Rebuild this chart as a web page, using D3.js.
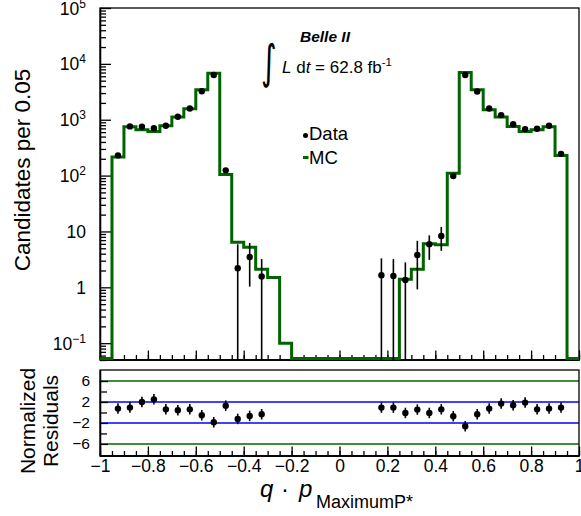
<!DOCTYPE html>
<html><head><meta charset="utf-8">
<script src="https://cdn.jsdelivr.net/npm/d3@7"></script>
<style>
body{margin:0;background:#fff}
svg{display:block;font-family:"Liberation Sans",Arial,Helvetica,sans-serif}
</style>
</head><body><svg id="c" width="581" height="516"></svg>
<script>
// ---------- data ----------
const binLow = [-1,-0.95,-0.9,-0.85,-0.8,-0.75,-0.7,-0.65,-0.6,-0.55,-0.5,-0.45,-0.4,-0.35,-0.3,-0.25,-0.2,-0.15,-0.1,-0.05,
                0,0.05,0.1,0.15,0.2,0.25,0.3,0.35,0.4,0.45,0.5,0.55,0.6,0.65,0.7,0.75,0.8,0.85,0.9,0.95];
const binWidth = 0.05;
const mcValues = [0,215,750,660,615,780,1120,1580,3450,6800,105,6.4,5.2,2.1,1.5,0.1,0,0,0,0,
                  0,0,0,0,0,1.39,2.1,6.0,5.8,110,7000,3450,1510,1120,760,615,660,750,230,0];
const dataX = [-0.925,-0.875,-0.825,-0.775,-0.725,-0.675,-0.625,-0.575,-0.525,-0.475,-0.425,-0.375,-0.325,
               0.175,0.225,0.275,0.325,0.375,0.425,0.475,0.525,0.575,0.625,0.675,0.725,0.775,0.825,0.875,0.925];
const dataY = [230,760,750,705,780,1130,1590,3240,6300,124,2.2,3.5,1.57,
               1.64,1.59,1.35,3.8,5.9,8.3,98,6300,3200,1590,1210,830,680,690,780,245];
const dataLo = [215,732,723,678,752,1096,1550,3183,6221,113,0,1.03,0,
                0,0,0,0.92,3.1,4.5,88,6221,3143,1550,1175,801,654,664,752,229];
const dataHi = [245,788,777,732,808,1164,1630,3297,6379,135,5.9,6.2,3.2,
                3.3,3.2,2.8,6.8,8.5,12,108,6379,3257,1630,1245,859,706,716,808,261];
const residY = [0.74,0.93,2.0,2.5,0.6,0.42,0.6,-0.53,-1.87,1.3,-1.23,-0.66,-0.34,
                0.93,0.93,-0.09,0.55,-0.09,0.6,-0.72,-2.63,-0.34,0.74,1.69,1.37,1.88,0.6,0.74,0.93];
const residErr = [1,1,1,1,1,1,1,1,1,1,1,1,1,1,1,1,1,1,1,1,1,1,1,1,1,1,1,1,1];
const yMajorTicks = [0.1,1,10,100,1000,10000,100000];
const yTickBase = ["10","1","10","10","10","10","10"];
const yTickExp  = ["−1","","","2","3","4","5"];
const xMajorTicks = [-1,-0.8,-0.6,-0.4,-0.2,0,0.2,0.4,0.6,0.8,1];
const xTickLabels = ["−1","−0.8","−0.6","−0.4","−0.2","0","0.2","0.4","0.6","0.8","1"];
const residTicks = [6,2,-2,-6];
const residTickLabels = ["6","2","−2","−6"];
const residMinorTicks = [4,0,-4];
const greenLines = [6,-6];
const blueLines = [2,-2];

// ---------- layout ----------
const GREEN = "#006400";
const svg = d3.select("#c");
const X0 = 100, X1 = 579;
const TOP = 8, BOT = 360;
const RTOP = 370, RBOT = 456;

const x = d3.scaleLinear().domain([-1,1]).range([X0,X1]);
const y = d3.scaleLog().domain([0.05,1e5]).range([BOT,TOP]);
const yr = d3.scaleLinear().domain([-8.3,8.1]).range([RBOT,RTOP]);

// minor ticks for log axis
const yMinor = [];
[0.01,0.1,1,10,100,1000,10000].forEach(d=>{for(let k=2;k<=9;k++){const v=d*k; if(v>=0.05&&v<=1e5) yMinor.push(v);}});
const xMinor = d3.range(-1,1.0001,0.05).map(v=>+v.toFixed(2));

// ---------- top panel ----------
svg.append("rect").attr("x",X0).attr("y",TOP).attr("width",X1-X0).attr("height",BOT-TOP)
  .attr("fill","none").attr("stroke","#000").attr("stroke-width",1.3);

const gy = svg.append("g").attr("transform",`translate(${X0},0)`);
gy.call(d3.axisLeft(y).tickValues(yMinor).tickSize(-6).tickSizeOuter(0).tickFormat(""));
const gy2 = svg.append("g").attr("transform",`translate(${X0},0)`);
gy2.call(d3.axisLeft(y).tickValues(yMajorTicks).tickSize(-11).tickSizeOuter(0).tickPadding(14).tickFormat(""));
gy2.selectAll(".tick text").each(function(d){
  const t = d3.select(this).attr("font-size",17.5).attr("font-family","Liberation Sans, Arial").attr("dy","0.35em");
  const idx = yMajorTicks.indexOf(d);
  t.append("tspan").text(yTickBase[idx]);
  if(yTickExp[idx]) t.append("tspan").attr("font-size",12).attr("dy",-7).text(yTickExp[idx]);
});
const gx = svg.append("g").attr("transform",`translate(0,${BOT-0.5})`);
gx.call(d3.axisBottom(x).tickValues(xMinor).tickSize(-4.5).tickSizeOuter(0).tickFormat(""));
const gx2 = svg.append("g").attr("transform",`translate(0,${BOT-0.5})`);
gx2.call(d3.axisBottom(x).tickValues(xMajorTicks).tickSize(-9).tickSizeOuter(0).tickFormat(""));
svg.selectAll(".domain,.tick line").attr("stroke-width",1.3);

// MC histogram
const clampY = v => v>0 ? y(Math.max(v,0.05)) : BOT-1.5;
let p = d3.path();
p.moveTo(x(binLow[0]), clampY(mcValues[0]));
binLow.forEach((lo,i)=>{
  const yy = clampY(mcValues[i]);
  p.lineTo(x(lo), yy);
  p.lineTo(x(lo+binWidth), yy);
});
svg.append("path").attr("d",p.toString()).attr("fill","none").attr("stroke",GREEN).attr("stroke-width",3);

// data points
const gd = svg.append("g");
dataX.forEach((xv,i)=>{
  const ylo = dataLo[i]>0 ? y(dataLo[i]) : BOT;
  gd.append("line").attr("x1",x(xv)).attr("x2",x(xv)).attr("y1",ylo).attr("y2",y(dataHi[i]))
    .attr("stroke","#000").attr("stroke-width",1.6);
  gd.append("circle").attr("cx",x(xv)).attr("cy",y(dataY[i])).attr("r",3.2).attr("fill","#000");
});

// texts
svg.append("text").attr("x",300).attr("y",41.7).attr("font-size",15.5).attr("font-weight","bold")
  .attr("font-style","italic").text("Belle II");
svg.append("text").attr("x",261).attr("y",76).attr("font-size",30).attr("font-family","DejaVu Sans")
  .attr("transform","translate(0,-40) scale(1,1.55)").attr("transform-origin","0 0").text("∫");
const lt = svg.append("text").attr("x",282).attr("y",72.7).attr("font-size",17);
lt.append("tspan").attr("font-style","italic").text("L");
lt.append("tspan").text(" d");
lt.append("tspan").attr("font-style","italic").text("t");
lt.append("tspan").text(" = 62.8 fb");
lt.append("tspan").attr("font-size",11.5).attr("dy",-7).text("-1");

// legend
svg.append("circle").attr("cx",305.5).attr("cy",135.5).attr("r",2.5).attr("fill","#000");
svg.append("text").attr("x",309).attr("y",140).attr("font-size",18.5).text("Data");
svg.append("line").attr("x1",303).attr("x2",308.5).attr("y1",157.5).attr("y2",157.5).attr("stroke",GREEN).attr("stroke-width",3);
svg.append("text").attr("x",309).attr("y",164).attr("font-size",18.5).text("MC");

// y title
svg.append("text").attr("transform","translate(30,170) rotate(-90)").attr("text-anchor","middle")
  .attr("font-size",22.5).text("Candidates per 0.05");

// ---------- residual panel ----------
greenLines.forEach(v=>svg.append("line").attr("x1",X0).attr("x2",X1).attr("y1",yr(v)).attr("y2",yr(v))
  .attr("stroke",GREEN).attr("stroke-width",1.5));
blueLines.forEach(v=>svg.append("line").attr("x1",X0).attr("x2",X1).attr("y1",yr(v)).attr("y2",yr(v))
  .attr("stroke","#0000ff").attr("stroke-width",1.5));

svg.append("rect").attr("x",X0).attr("y",RTOP).attr("width",X1-X0).attr("height",RBOT-RTOP)
  .attr("fill","none").attr("stroke","#000").attr("stroke-width",1.3);

const gry = svg.append("g").attr("transform",`translate(${X0},0)`);
gry.call(d3.axisLeft(yr).tickValues(residMinorTicks).tickSize(-7).tickSizeOuter(0).tickFormat(""));
const gry2 = svg.append("g").attr("transform",`translate(${X0},0)`);
gry2.call(d3.axisLeft(yr).tickValues(residTicks).tickSize(-8).tickSizeOuter(0).tickPadding(10)
  .tickFormat((d,i)=>residTickLabels[i]));
gry2.selectAll("text").attr("font-size",15.5).attr("font-family","Liberation Sans, Arial");

const grx = svg.append("g").attr("transform",`translate(0,${RBOT-0.5})`);
grx.call(d3.axisBottom(x).tickValues(xMinor).tickSize(-4.5).tickSizeOuter(0).tickFormat(""));
const grx2 = svg.append("g").attr("transform",`translate(0,${RBOT-0.5})`);
grx2.call(d3.axisBottom(x).tickValues(xMajorTicks).tickSize(-9).tickSizeOuter(0).tickPadding(4.5)
  .tickFormat((d,i)=>xTickLabels[i]));
grx2.selectAll("text").attr("font-size",17.5).attr("font-family","Liberation Sans, Arial");
svg.selectAll(".domain,.tick line").attr("stroke-width",1.3);

const gres = svg.append("g");
dataX.forEach((xv,i)=>{
  gres.append("line").attr("x1",x(xv)).attr("x2",x(xv))
    .attr("y1",yr(residY[i]-residErr[i])).attr("y2",yr(residY[i]+residErr[i]))
    .attr("stroke","#000").attr("stroke-width",1.6);
  gres.append("circle").attr("cx",x(xv)).attr("cy",yr(residY[i])).attr("r",3.2).attr("fill","#000");
});

svg.append("text").attr("transform","translate(35,421) rotate(-90)").attr("text-anchor","middle")
  .attr("font-size",21).text("Normalized");
svg.append("text").attr("transform","translate(58,421) rotate(-90)").attr("text-anchor","middle")
  .attr("font-size",21).text("Residuals");

// x title
const xt = svg.append("text").attr("y",497).attr("font-size",24);
xt.append("tspan").attr("x",260).attr("font-style","italic").text("q");
xt.append("tspan").attr("x",281).text("·");
xt.append("tspan").attr("x",299).attr("font-style","italic").text("p");
xt.append("tspan").attr("x",316).attr("dy",11).attr("font-size",18).text("MaximumP*");
</script>
</body></html>
